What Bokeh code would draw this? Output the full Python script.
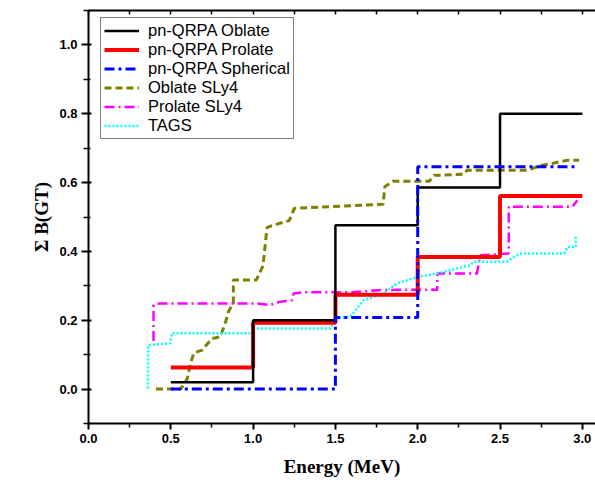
from bokeh.plotting import figure
from bokeh.models import LinearAxis, Legend, LegendItem, FixedTicker, Range1d, NumeralTickFormatter
from bokeh.embed import file_html
from bokeh.resources import INLINE

# pn-QRPA step curves (value holds from each x until the next)
obl_x = [0.5, 1.0, 1.5, 2.0, 2.5, 3.0]
obl_y = [0.02, 0.20, 0.476, 0.586, 0.80, 0.80]
pro_x = [0.5, 1.0, 1.5, 2.0, 2.5, 3.0]
pro_y = [0.063, 0.193, 0.274, 0.384, 0.561, 0.561]
sph_x = [0.5, 1.5, 2.0, 2.96]
sph_y = [0.0, 0.208, 0.646, 0.646]

# SLy4 / TAGS curves
osly_x = [0.41, 0.56, 0.60, 0.62, 0.64, 0.69, 0.75, 0.80, 0.83, 0.85, 0.88, 0.88, 1.02, 1.06,
          1.08, 1.085, 1.15, 1.22, 1.25, 1.79, 1.80, 1.85, 2.07, 2.10, 2.28, 2.30, 2.665, 2.75,
          2.83, 2.91, 2.98]
osly_y = [0.0, 0.0, 0.03, 0.075, 0.105, 0.113, 0.147, 0.152, 0.19, 0.225, 0.25, 0.317, 0.317,
          0.358, 0.45, 0.47, 0.48, 0.49, 0.525, 0.537, 0.588, 0.604, 0.604, 0.621, 0.624, 0.636,
          0.636, 0.65, 0.657, 0.665, 0.665]
psly_x = [0.395, 0.395, 0.435, 1.02, 1.10, 1.165, 1.236, 1.246, 1.307, 1.59, 1.79, 2.097, 2.118,
          2.12, 2.36, 2.37, 2.38, 2.553, 2.553, 2.94, 2.97]
psly_y = [0.14, 0.244, 0.249, 0.249, 0.244, 0.254, 0.258, 0.278, 0.281, 0.281, 0.288, 0.289,
          0.288, 0.336, 0.336, 0.365, 0.389, 0.394, 0.53, 0.53, 0.549]
tags_x = [0.36, 0.364, 0.496, 0.506, 0.993, 1.0, 1.47, 1.50, 1.59, 1.67, 1.79, 1.875, 2.0, 2.12,
          2.32, 2.34, 2.54, 2.62, 2.89, 2.91, 2.96, 2.96]
tags_y = [0.002, 0.128, 0.133, 0.162, 0.162, 0.176, 0.176, 0.205, 0.21, 0.258, 0.278, 0.307,
          0.326, 0.336, 0.36, 0.37, 0.37, 0.394, 0.394, 0.413, 0.413, 0.447]

legend_labels = ["pn-QRPA Oblate", "pn-QRPA Prolate", "pn-QRPA Spherical",
                 "Oblate SLy4", "Prolate SLy4", "TAGS"]
x_ticks = [0.0, 0.5, 1.0, 1.5, 2.0, 2.5, 3.0]
x_minor = [0.25, 0.75, 1.25, 1.75, 2.25, 2.75]
y_ticks = [0.0, 0.2, 0.4, 0.6, 0.8, 1.0]
y_minor = [-0.1, 0.1, 0.3, 0.5, 0.7, 0.9, 1.1]

p = figure(width=595, height=482, output_backend="svg", toolbar_location=None,
           x_range=Range1d(0, 3.08), y_range=Range1d(-0.1, 1.1),
           min_border_left=88, min_border_right=0, min_border_top=10, min_border_bottom=59)
p.grid.visible = False
p.outline_line_color = None
p.background_fill_color = "white"

r_osly = p.line(osly_x, osly_y, line_color="#808000", line_width=3, line_dash="7 4")
r_psly = p.line(psly_x, psly_y, line_color="#FF00FF", line_width=2.5, line_dash="10 4 2 4")
r_tags = p.line(tags_x, tags_y, line_color="#00FFFF", line_width=2.5, line_dash="2 2")
r_pro = p.step(pro_x, pro_y, mode="after", line_color="#FF0000", line_width=4)
r_obl = p.step(obl_x, obl_y, mode="after", line_color="#000000", line_width=2.5)
r_sph = p.step(sph_x, sph_y, mode="after", line_color="#0000FF", line_width=3,
               line_dash="10 4 3 4")

items = [LegendItem(label=lab, renderers=[r]) for lab, r in
         zip(legend_labels, [r_obl, r_pro, r_sph, r_osly, r_psly, r_tags])]
leg = Legend(items=items, location=(12, 284), padding=3, spacing=0, margin=0,
             label_height=19, glyph_height=19, glyph_width=35, label_standoff=9,
             label_text_font="Liberation Sans", label_text_font_size="16.5px",
             label_text_color="black",
             border_line_color="black", border_line_width=1,
             background_fill_alpha=1.0)
p.add_layout(leg, "center")

xa = p.xaxis[0]
xa.ticker = FixedTicker(ticks=x_ticks, minor_ticks=x_minor)
ya = p.yaxis[0]
ya.ticker = FixedTicker(ticks=y_ticks, minor_ticks=y_minor)
for ax in (xa, ya):
    ax.formatter = NumeralTickFormatter(format="0.0")
    ax.axis_line_width = 2
    ax.axis_line_color = "black"
    ax.major_tick_line_color = "black"
    ax.minor_tick_line_color = "black"
    ax.major_tick_line_width = 2
    ax.minor_tick_line_width = 1.5
    ax.major_label_text_font = "Liberation Sans"
    ax.major_label_text_font_style = "bold"
    ax.major_label_text_font_size = "13px"
    ax.major_label_text_color = "black"
    ax.axis_label_text_font = "Liberation Serif"
    ax.axis_label_text_font_style = "bold"
    ax.axis_label_text_font_size = "19px"
    ax.axis_label_text_color = "black"
    ax.major_label_standoff = 4
xa.major_tick_out = 6
xa.major_tick_in = 0
xa.minor_tick_out = 4
xa.minor_tick_in = 0
xa.axis_label = "Energy (MeV)"
xa.axis_label_standoff = 10
ya.major_tick_out = 7
ya.major_tick_in = 3
ya.minor_tick_out = 5
ya.minor_tick_in = 2
ya.axis_label = "Σ B(GT)"
ya.axis_label_standoff = 4

top = LinearAxis(ticker=FixedTicker(ticks=[], minor_ticks=x_ticks + x_minor),
                 minor_tick_in=4, minor_tick_out=0, major_tick_in=0, major_tick_out=0,
                 axis_line_width=2, axis_line_color="black",
                 minor_tick_line_width=1.5, minor_tick_line_color="black",
                 major_label_standoff=0)
p.add_layout(top, "above")

open("out.html", "w").write(file_html(p, INLINE))
